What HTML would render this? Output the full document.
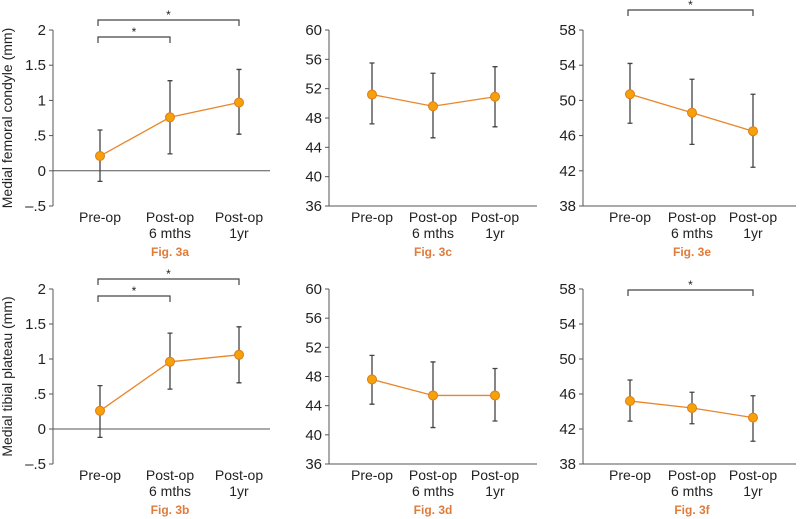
<!DOCTYPE html>
<html><head><meta charset="utf-8">
<style>
body{margin:0;background:#fff;}
svg{display:block;font-family:"Liberation Sans","DejaVu Sans",sans-serif;}
</style></head>
<body>
<svg id="chart" width="800" height="519" viewBox="0 0 800 519"></svg>
<script>
const categories=["Pre-op","Post-op|6 mths","Post-op|1yr"];
const meanA=[0.21,0.76,0.97], lowA=[-0.15,0.24,0.52], highA=[0.58,1.28,1.44];
const meanB=[0.26,0.96,1.06], lowB=[-0.12,0.57,0.66], highB=[0.62,1.37,1.46];
const meanC=[51.2,49.6,50.9], lowC=[47.2,45.3,46.8], highC=[55.5,54.1,55.0];
const meanD=[47.6,45.4,45.4], lowD=[44.2,41.0,41.9], highD=[50.9,50.0,49.1];
const meanE=[50.7,48.6,46.5], lowE=[47.4,45.0,42.4], highE=[54.2,52.4,50.7];
const meanF=[45.2,44.4,43.3], lowF=[42.9,42.6,40.6], highF=[47.6,46.2,45.8];
const ticksAB=[-0.5,0,0.5,1,1.5,2], tickLabelsAB=["–.5","0",".5","1","1.5","2"];
const ticksCD=[36,40,44,48,52,56,60];
const ticksEF=[38,42,46,50,54,58];
const NS="http://www.w3.org/2000/svg";
const svg=document.getElementById('chart');
function mk(tag,attrs,parent){const e=document.createElementNS(NS,tag);for(const k in attrs)e.setAttribute(k,attrs[k]);(parent||svg).appendChild(e);return e;}
const panels=[
 {id:'3a',mean:meanA,low:lowA,high:highA,ticks:ticksAB,labels:tickLabelsAB,ax:53,cx:[100,170,239],end:270,top:30,bot:206,zero:true,title:'Medial femoral condyle (mm)',br:[[0,1,37],[0,2,20]]},
 {id:'3b',mean:meanB,low:lowB,high:highB,ticks:ticksAB,labels:tickLabelsAB,ax:53,cx:[100,170,239],end:270,top:289,bot:464,zero:true,title:'Medial tibial plateau (mm)',br:[[0,1,296],[0,2,279]]},
 {id:'3c',mean:meanC,low:lowC,high:highC,ticks:ticksCD,labels:ticksCD.map(String),ax:329,cx:[372,433,495],end:537,top:30,bot:206,br:[]},
 {id:'3d',mean:meanD,low:lowD,high:highD,ticks:ticksCD,labels:ticksCD.map(String),ax:329,cx:[372,433,495],end:537,top:289,bot:464,br:[]},
 {id:'3e',mean:meanE,low:lowE,high:highE,ticks:ticksEF,labels:ticksEF.map(String),ax:583,cx:[630,692,753],end:796,top:30,bot:206,br:[[0,2,10]]},
 {id:'3f',mean:meanF,low:lowF,high:highF,ticks:ticksEF,labels:ticksEF.map(String),ax:583,cx:[630,692,753],end:796,top:289,bot:464,br:[[0,2,290]]}
];
panels.forEach(p=>{
 const g=mk('g',{});
 
 
 const mn=p.ticks[0],mx=p.ticks[p.ticks.length-1];
 const y=v=>p.bot-(v-mn)/(mx-mn)*(p.bot-p.top);
 const ya=mk('line',{x1:p.ax,x2:p.ax,y1:p.top,y2:p.bot,stroke:'#555','stroke-width':1},g);
 
 
 p.ticks.forEach((t,i)=>{
  mk('line',{x1:p.ax-4,x2:p.ax,y1:y(t),y2:y(t),stroke:'#555'},g);
  const tl=mk('text',{x:p.ax-7,y:y(t)+5,'text-anchor':'end','font-size':15,fill:'#222'},g);
  tl.textContent=p.labels[i];
  
  
 });
 const baseY=p.zero?y(0):p.bot;
 const xa=mk('line',{x1:p.ax,x2:p.end,y1:baseY,y2:baseY,stroke:'#555'},g);
 
 
 categories.forEach((c,i)=>{
  const parts=c.split('|');
  parts.forEach((s,j)=>{
   const t=mk('text',{x:p.cx[i],y:p.bot+16+j*16,'text-anchor':'middle','font-size':14,fill:'#222'},g);
   t.textContent=s;
   
   
  });
 });
 const pts=p.mean.map((v,i)=>p.cx[i]+','+y(v)).join(' ');
 const ln=mk('polyline',{points:pts,fill:'none',stroke:'#e8862a','stroke-width':1.3},g);
 
 
 p.mean.forEach((v,i)=>{
  const x=p.cx[i];
  const eb=mk('path',{d:`M${x-2.5},${y(p.high[i])}H${x+2.5}M${x},${y(p.high[i])}V${y(p.low[i])}M${x-2.5},${y(p.low[i])}H${x+2.5}`,stroke:'#444','stroke-width':1.3,fill:'none'},g);
  
  
 });
 p.mean.forEach((v,i)=>{
  const c=mk('circle',{cx:p.cx[i],cy:y(v),r:4.5,fill:'#f5a20a',stroke:'#e07b1a','stroke-width':1},g);
  
  
 });
 p.br.forEach(b=>{
  const x1=p.cx[b[0]]-2,x2=p.cx[b[1]],by=b[2];
  const bp=mk('path',{d:`M${x1},${by+6}V${by}H${x2}V${by+6}`,stroke:'#444','stroke-width':1.2,fill:'none'},g);
  
  
  const st=mk('text',{x:(x1+x2)/2,y:by-1,'text-anchor':'middle','font-size':12,fill:'#222'},g);
  st.textContent='*';
  
  
 });
 const fl=mk('text',{x:p.cx[1],y:p.bot+50,'text-anchor':'middle','font-size':12,'font-weight':'bold',fill:'#e07b3a'},g);
 fl.textContent='Fig. '+p.id;
 
 
 if(p.title){
  const cy=(p.top+p.bot)/2;
  const tt=mk('text',{x:12,y:cy,transform:`rotate(-90 12 ${cy})`,'text-anchor':'middle','font-size':14,fill:'#222'},g);
  tt.textContent=p.title;
  
  
 }
});
</script>
</body></html>
